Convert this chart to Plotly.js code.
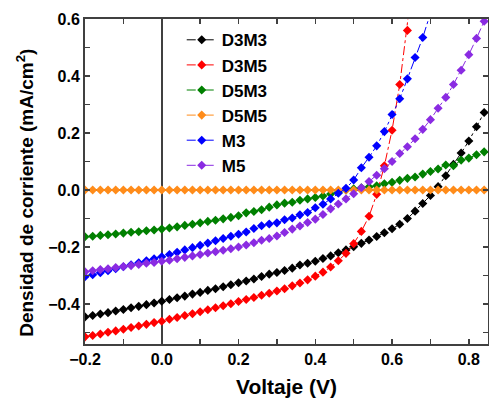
<!DOCTYPE html>
<html>
<head>
<meta charset="utf-8">
<script src="https://cdn.plot.ly/plotly-3.0.1.min.js"></script>
<style>
html,body{margin:0;padding:0;background:#fff;}
#chart{width:489px;height:406px;}
</style>
</head>
<body>
<div id="chart"></div>
<script>
// Voltage (V)
var voltage = [-0.20,-0.18,-0.16,-0.14,-0.12,-0.10,-0.08,-0.06,-0.04,-0.02,
  0.00,0.02,0.04,0.06,0.08,0.10,0.12,0.14,0.16,0.18,
  0.20,0.22,0.24,0.26,0.28,0.30,0.32,0.34,0.36,0.38,
  0.40,0.42,0.44,0.46,0.48,0.50,0.52,0.54,0.56,0.58,
  0.60,0.62,0.64,0.66,0.68,0.70,0.72,0.74,0.76,0.78,
  0.80,0.82,0.84];

var D3M3 = [-0.445,-0.440,-0.435,-0.430,-0.424,-0.419,-0.413,-0.408,-0.402,-0.396,
  -0.390,-0.384,-0.378,-0.372,-0.365,-0.359,-0.352,-0.346,-0.339,-0.332,
  -0.325,-0.319,-0.312,-0.303,-0.295,-0.289,-0.282,-0.274,-0.263,-0.257,
  -0.250,-0.240,-0.231,-0.220,-0.210,-0.199,-0.187,-0.175,-0.163,-0.150,
  -0.136,-0.120,-0.100,-0.074,-0.047,-0.019,0.012,0.050,0.090,0.130,
  0.172,0.222,0.272];

var D3M5 = [-0.515,-0.510,-0.505,-0.499,-0.494,-0.488,-0.482,-0.477,-0.471,-0.465,
  -0.460,-0.453,-0.447,-0.440,-0.434,-0.427,-0.420,-0.413,-0.406,-0.399,
  -0.391,-0.384,-0.377,-0.369,-0.362,-0.354,-0.346,-0.336,-0.326,-0.315,
  -0.302,-0.288,-0.270,-0.248,-0.222,-0.188,-0.145,-0.092,-0.015,0.085,
  0.210,0.370,0.560,0.800];

var D5M3 = [-0.164,-0.162,-0.159,-0.157,-0.154,-0.151,-0.148,-0.146,-0.143,-0.140,
  -0.137,-0.133,-0.129,-0.124,-0.120,-0.115,-0.110,-0.106,-0.101,-0.096,
  -0.090,-0.080,-0.075,-0.069,-0.060,-0.052,-0.046,-0.043,-0.036,-0.031,
  -0.026,-0.021,-0.014,-0.008,0.000,0.004,0.008,0.011,0.015,0.022,
  0.027,0.034,0.041,0.046,0.056,0.065,0.074,0.088,0.085,0.105,
  0.112,0.124,0.134];

var D5M5 = [0,0,0,0,0,0,0,0,0,0,
  0,0,0,0,0,0,0,0,0,0,
  0,0,0,0,0,0,0,0,0,0,
  0,0,0,0,0,0,0,0,0,0,
  0,0,0,0,0,0,0,0,0,0,
  0,0,0];

var M3 = [-0.304,-0.297,-0.290,-0.283,-0.276,-0.269,-0.262,-0.255,-0.248,-0.241,
  -0.234,-0.226,-0.218,-0.210,-0.202,-0.194,-0.186,-0.178,-0.170,-0.162,
  -0.155,-0.147,-0.135,-0.125,-0.119,-0.115,-0.104,-0.098,-0.087,-0.079,
  -0.062,-0.050,-0.031,-0.011,0.006,0.035,0.078,0.115,0.155,0.205,
  0.265,0.320,0.390,0.465,0.535,0.620];

var M5 = [-0.287,-0.283,-0.279,-0.276,-0.272,-0.268,-0.265,-0.261,-0.257,-0.254,
  -0.250,-0.246,-0.241,-0.236,-0.231,-0.226,-0.221,-0.216,-0.211,-0.206,
  -0.200,-0.193,-0.185,-0.176,-0.170,-0.161,-0.149,-0.137,-0.126,-0.114,
  -0.102,-0.086,-0.066,-0.049,-0.031,-0.013,0.008,0.030,0.052,0.075,
  0.100,0.128,0.152,0.180,0.213,0.247,0.287,0.325,0.370,0.420,
  0.475,0.532,0.592];

var seriesNames = ['D3M3','D3M5','D5M3','D5M5','M3','M5'];
var seriesData = [D3M3, D3M5, D5M3, D5M5, M3, M5];
var seriesColors = ['#000000','#ff0000','#008000','#ff8c1a','#0000ff','#8a2be2'];
var yTitle = 'Densidad de corriente (mA/cm<sup>2</sup>)';
var xTitle = 'Voltaje (V)';

var traces = seriesNames.map(function(name, i){
  var y = seriesData[i];
  return {
    x: voltage.slice(0, y.length),
    y: y,
    name: name,
    legendgroup: name,
    type: 'scatter',
    mode: 'lines+markers',
    line: {color: seriesColors[i], width: 1, dash: 'dashdot'},
    marker: {symbol: 'diamond', size: 7, color: seriesColors[i]},
    cliponaxis: true
  };
});

var FONT = 'Liberation Sans, Arial, sans-serif';

var layout = {
  width: 489, height: 406,
  margin: {l: 85, r: 1, t: 19, b: 62},
  paper_bgcolor: '#fff', plot_bgcolor: '#fff',
  showlegend: true,
  legend: {
    x: 0.24, y: 0.99, xanchor: 'left', yanchor: 'top',
    bgcolor: 'rgba(0,0,0,0)',
    traceorder: 'grouped',
    tracegroupgap: 0,
    font: {family: FONT, size: 17, color: '#000', weight: 'bold'},
    itemwidth: 30
  },
  annotations: [{
    text: yTitle, textangle: -90,
    xref: 'paper', yref: 'paper', x: -0.149, y: 0.465,
    xanchor: 'center', yanchor: 'middle', showarrow: false,
    font: {family: FONT, size: 19, color: '#000', weight: 'bold'}
  }],
  xaxis: {
    range: [-0.2, 0.85],
    dtick: 0.2, tick0: 0,
    tickformat: '.1f',
    ticks: 'inside', ticklen: 5, tickwidth: 1.5, tickcolor: '#404040',
    minor: {dtick: 0.1, ticks: 'inside', ticklen: 5, tickwidth: 1.5, tickcolor: '#404040'},
    showline: true, linecolor: '#404040', linewidth: 2, mirror: 'ticks',
    showgrid: false,
    zeroline: true, zerolinecolor: '#404040', zerolinewidth: 2,
    tickfont: {family: FONT, size: 16, color: '#000', weight: 'bold'},
    title: {text: xTitle, standoff: 12,
      font: {family: FONT, size: 21, color: '#000', weight: 'bold'}}
  },
  yaxis: {
    range: [-0.54, 0.6],
    dtick: 0.2, tick0: 0,
    tickformat: '.1f',
    ticks: 'inside', ticklen: 5, tickwidth: 1.5, tickcolor: '#404040',
    minor: {dtick: 0.1, ticks: 'inside', ticklen: 5, tickwidth: 1.5, tickcolor: '#404040'},
    showline: true, linecolor: '#404040', linewidth: 2, mirror: 'ticks',
    showgrid: false,
    zeroline: true, zerolinecolor: '#404040', zerolinewidth: 2,
    tickfont: {family: FONT, size: 16, color: '#000', weight: 'bold'}
  }
};

Plotly.newPlot('chart', traces, layout, {displayModeBar: false, staticPlot: true});
</script>
</body>
</html>
